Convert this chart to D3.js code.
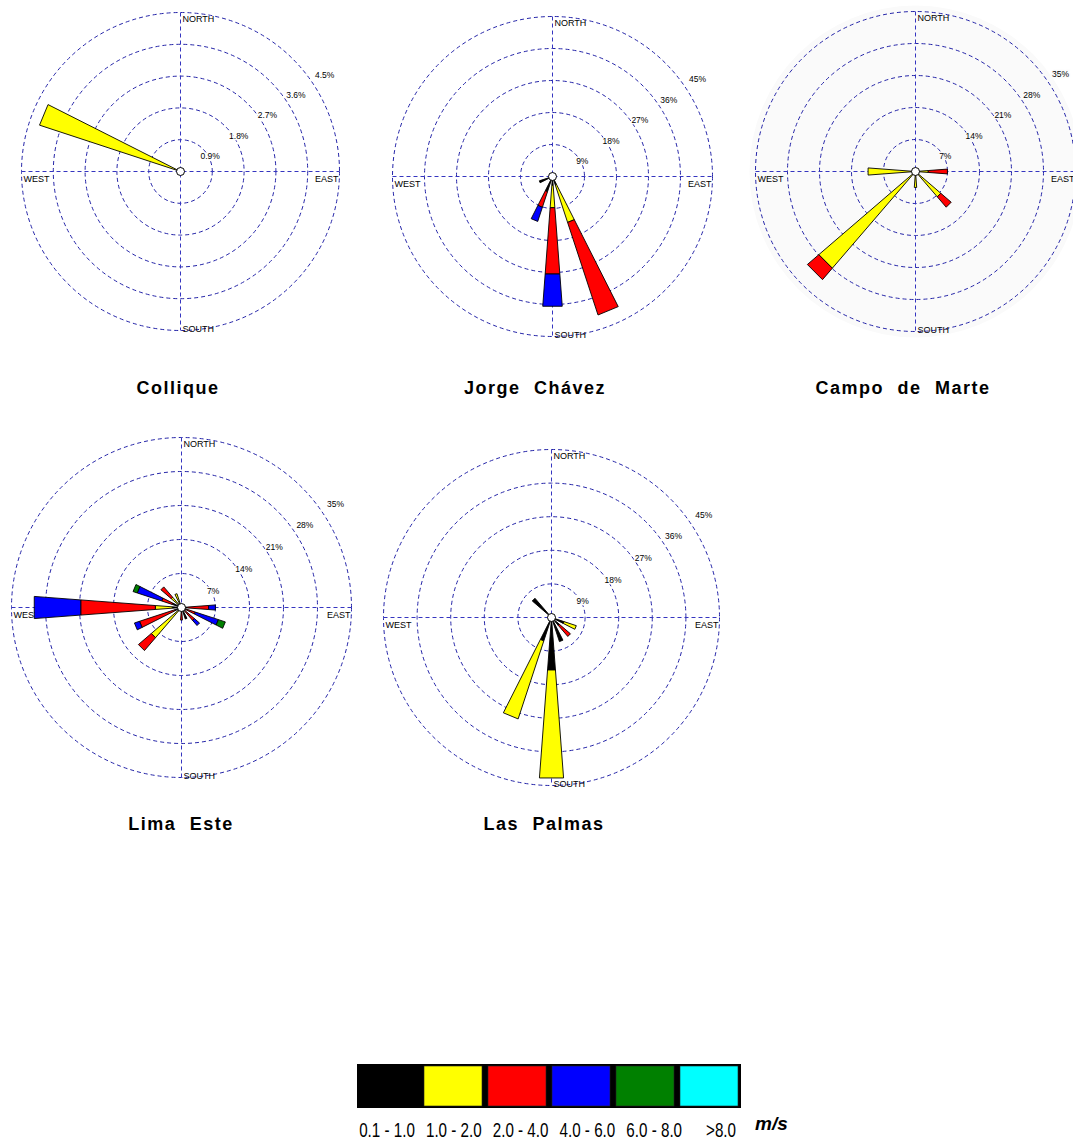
<!DOCTYPE html>
<html>
<head>
<meta charset="utf-8">
<script src="https://cdn.jsdelivr.net/npm/d3@7"></script>
<style>
  body { margin: 0; background: #fff; }
  text { font-family: Arial, "Liberation Sans", sans-serif; }
</style>
</head>
<body>
<svg id="chart" width="1073" height="1141"></svg>
<script>
// speed classes (m/s) and their colours
const speedClasses = ['0.1 - 1.0', '1.0 - 2.0', '2.0 - 4.0', '4.0 - 6.0', '6.0 - 8.0', '>8.0'];
const classColors = ['#000000', '#ffff00', '#ff0000', '#0000ff', '#008000', '#00ffff'];
const directions = ['N', 'NNE', 'NE', 'ENE', 'E', 'ESE', 'SE', 'SSE',
                    'S', 'SSW', 'SW', 'WSW', 'W', 'WNW', 'NW', 'NNW'];

const stationNames = ['Collique', 'Jorge Chávez', 'Campo de Marte', 'Lima Este', 'Las Palmas'];

// ring ticks (%) per station
const colliqueTicks = [0.9, 1.8, 2.7, 3.6, 4.5];
const jorgeChavezTicks = [9, 18, 27, 36, 45];
const campoMarteTicks = [7, 14, 21, 28, 35];
const limaEsteTicks = [7, 14, 21, 28, 35];
const lasPalmasTicks = [9, 18, 27, 36, 45];

// frequency (%) of each speed class per direction
const colliqueRose = [
    ['WNW', [0, 4.2]]
];
const jorgeChavezRose = [
    ['S', [2.5, 6.3, 18.7, 9.1]],
    ['SSE', [2.5, 11.1, 27.4]],
    ['SSW', [4.5, 0, 4.6, 4.2]],
    ['WSW', [3.9]]
];
const campoMarteRose = [
    ['SW', [0, 27.9, 3.3]],
    ['W', [0, 10.4]],
    ['E', [0, 2.8, 4.2]],
    ['SE', [0, 7.3, 3.0]],
    ['S', [0, 3.5]]
];
const limaEsteRose = [
    ['W', [1.9, 3.5, 15.4, 9.6]],
    ['WNW', [2, 0, 2.3, 5.3, 0.9]],
    ['NW', [1, 1.8, 2.8]],
    ['NNW', [1, 2]],
    ['WSW', [1.5, 0, 7.6, 1.1]],
    ['SW', [1, 7.2, 3.5]],
    ['E', [1.2, 0, 4.4, 1.4]],
    ['ESE', [1, 0, 2, 5, 1.5]],
    ['SE', [1, 0, 2.5, 1.4]],
    ['S', [1, 0, 1.6]],
    ['SSE', [2.5]]
];
const lasPalmasRose = [
    ['S', [14.1, 29]],
    ['SSW', [6.6, 22]],
    ['NW', [6.8]],
    ['ESE', [3.5, 3.5]],
    ['SE', [2.8, 0, 3.9]],
    ['SSE', [6.8]]
];

const roseData = [colliqueRose, jorgeChavezRose, campoMarteRose, limaEsteRose, lasPalmasRose];
const roseTicks = [colliqueTicks, jorgeChavezTicks, campoMarteTicks, limaEsteTicks, lasPalmasTicks];

// layout
const layout = [
    {cx: 180.5, cy: 171.5, R: 159, tx: 178, ty: 394},
    {cx: 552.5, cy: 176.5, R: 160, tx: 535, ty: 394},
    {cx: 915.5, cy: 171.5, R: 160, tx: 903, ty: 394, halo: true},
    {cx: 181.5, cy: 607.5, R: 170, tx: 181, ty: 830},
    {cx: 551.5, cy: 617.5, R: 168, tx: 544, ty: 830}
];

const svg = d3.select('#chart');
const gridColor = '#2424a8';
const halfWidth = 4.3;

const bearing = d3.scalePoint()
    .domain(directions)
    .range([0, 337.5]);

function polar(r, deg) {
    let a = deg * Math.PI / 180;
    return [r * Math.sin(a), -r * Math.cos(a)];
}

stationNames.forEach(function (name, i) {
    let L = layout[i],
        ticks = roseTicks[i];

    let rScale = d3.scaleLinear()
        .domain([0, d3.max(ticks)])
        .range([0, L.R]);

    let g = svg.append('g')
        .attr('transform', `translate(${L.cx}, ${L.cy})`);

    if (L.halo) {
        g.append('circle')
            .attr('r', L.R + 6)
            .attr('fill', '#fafafa');
    }

    // rings
    g.selectAll('.ring')
        .data(ticks)
        .enter().append('circle')
        .attr('class', 'ring')
        .attr('r', d => rScale(d))
        .attr('fill', 'none')
        .attr('stroke', gridColor)
        .attr('stroke-width', 1)
        .attr('stroke-dasharray', '4,3');

    // axes
    g.append('line')
        .attr('x1', -L.R).attr('x2', L.R)
        .attr('y1', 0).attr('y2', 0)
        .attr('stroke', '#3535c0')
        .attr('stroke-dasharray', '4,3');
    g.append('line')
        .attr('x1', 0).attr('x2', 0)
        .attr('y1', -L.R).attr('y2', L.R)
        .attr('stroke', '#3535c0')
        .attr('stroke-dasharray', '4,3');

    // ring labels
    g.selectAll('.ringlabel')
        .data(ticks)
        .enter().append('text')
        .attr('class', 'ringlabel')
        .attr('x', d => rScale(d) * 0.9 + 1)
        .attr('y', d => -rScale(d) * 0.64 + 8)
        .attr('text-anchor', 'middle')
        .attr('font-size', 8.5)
        .attr('stroke', L.halo ? '#fafafa' : '#fff')
        .attr('stroke-width', 2.5)
        .attr('paint-order', 'stroke')
        .text(d => d + '%');

    // compass labels
    let cl = g.append('g').attr('font-size', 9);
    cl.append('text').attr('x', 2).attr('y', -L.R + 9.5).text('NORTH');
    cl.append('text').attr('x', 2).attr('y', L.R + 1.5).text('SOUTH');
    cl.append('text').attr('x', -L.R + 2).attr('y', 10).text('WEST');
    cl.append('text').attr('x', L.R - 1).attr('y', 10)
        .attr('text-anchor', 'end').text('EAST');

    // petals
    let segments = [];
    roseData[i].forEach(function (p) {
        let cum = [0, ...d3.cumsum(p[1])];
        p[1].forEach(function (v, k) {
            if (v > 0) segments.push({dir: p[0], k: k, r0: cum[k], r1: cum[k + 1]});
        });
    });

    g.selectAll('.petal')
        .data(segments)
        .enter().append('path')
        .attr('class', 'petal')
        .attr('d', function (d) {
            let b = bearing(d.dir),
                r0 = rScale(d.r0),
                r1 = rScale(d.r1);
            let pts = [polar(r0, b - halfWidth), polar(r1, b - halfWidth),
                       polar(r1, b + halfWidth), polar(r0, b + halfWidth)];
            return d3.line()(pts) + 'Z';
        })
        .attr('fill', d => classColors[d.k])
        .attr('stroke', '#000')
        .attr('stroke-width', 0.9)
        .attr('stroke-linejoin', 'miter');

    g.append('circle')
        .attr('r', 4)
        .attr('fill', '#fff')
        .attr('stroke', '#000')
        .attr('stroke-width', 1);

    // title
    svg.append('text')
        .attr('x', L.tx)
        .attr('y', L.ty)
        .attr('text-anchor', 'middle')
        .attr('font-size', 18)
        .attr('font-weight', 'bold')
        .style('letter-spacing', '1.5px')
        .style('word-spacing', '7px')
        .text(name);
});

// legend
let legendX = d3.scaleBand()
    .domain(speedClasses)
    .range([357, 741]);

let legend = svg.append('g');

legend.append('rect')
    .attr('x', 357).attr('y', 1064)
    .attr('width', 384).attr('height', 44)
    .attr('fill', '#000');

legend.selectAll('.lbox')
    .data(speedClasses.slice(1))
    .enter().append('rect')
    .attr('class', 'lbox')
    .attr('x', d => legendX(d) + 3)
    .attr('y', 1066)
    .attr('width', legendX.bandwidth() - 6)
    .attr('height', 40)
    .attr('fill', d => classColors[speedClasses.indexOf(d)])
    .attr('stroke', '#222')
    .attr('stroke-width', 0.6);

let labelX = d3.scalePoint()
    .domain(speedClasses)
    .range([387, 721]);

legend.selectAll('.llabel')
    .data(speedClasses)
    .enter().append('text')
    .attr('class', 'llabel')
    .attr('transform', d => `translate(${labelX(d)}, 1137) scale(0.76, 1)`)
    .attr('text-anchor', 'middle')
    .attr('font-size', 20)
    .text(d => d);

legend.append('text')
    .attr('x', 755)
    .attr('y', 1130)
    .attr('font-size', 19)
    .attr('font-weight', 'bold')
    .attr('font-style', 'italic')
    .text('m/s');
</script>
</body>
</html>
